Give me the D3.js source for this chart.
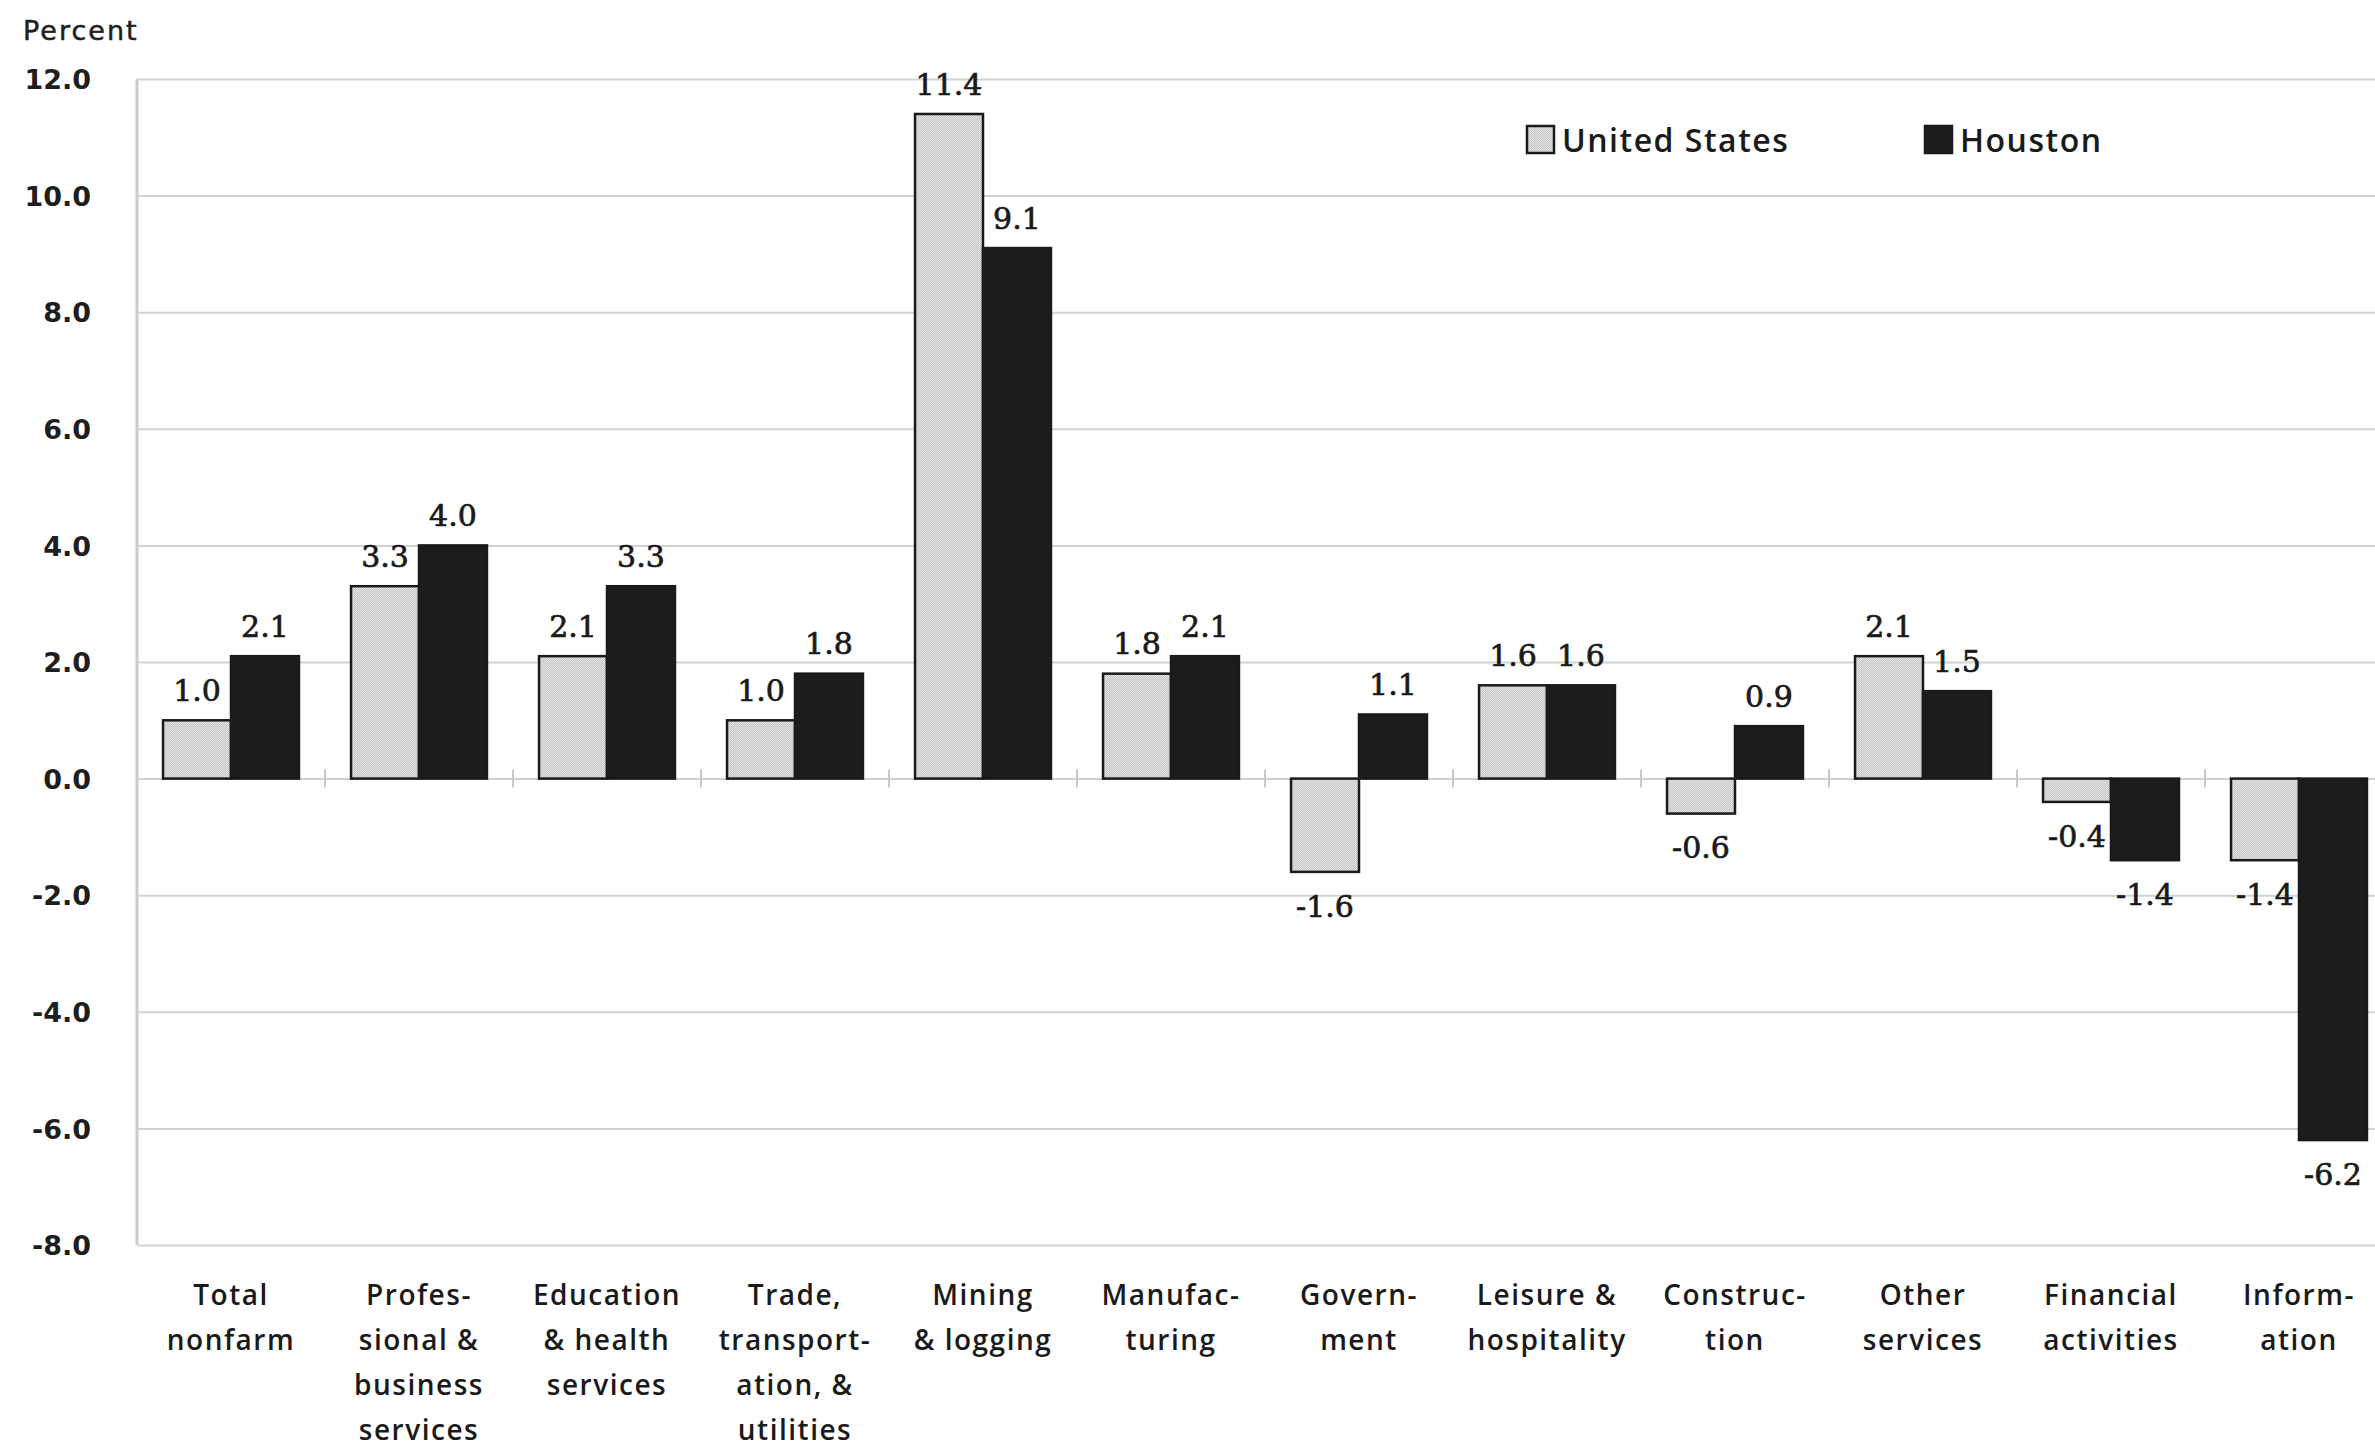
<!DOCTYPE html>
<html>
<head>
<meta charset="utf-8">
<script src="https://cdn.jsdelivr.net/npm/d3@7"></script>
<style>
  html, body { margin: 0; padding: 0; background: #fff; }
  svg { display: block; }
</style>
</head>
<body>
<svg id="chart" width="2375" height="1448"></svg>
<script>
// Over-the-year percent change in employment by industry
const categories = [
  "Total nonfarm", "Professional & business services", "Education & health services",
  "Trade, transportation, & utilities", "Mining & logging", "Manufacturing",
  "Government", "Leisure & hospitality", "Construction", "Other services",
  "Financial activities", "Information"
];
const categoryLines = [
  ["Total", "nonfarm"],
  ["Profes-", "sional &", "business", "services"],
  ["Education", "& health", "services"],
  ["Trade,", "transport-", "ation, &", "utilities"],
  ["Mining", "& logging"],
  ["Manufac-", "turing"],
  ["Govern-", "ment"],
  ["Leisure &", "hospitality"],
  ["Construc-", "tion"],
  ["Other", "services"],
  ["Financial", "activities"],
  ["Inform-", "ation"]
];
const usValues      = [1.0, 3.3, 2.1, 1.0, 11.4, 1.8, -1.6, 1.6, -0.6, 2.1, -0.4, -1.4];
const houstonValues = [2.1, 4.0, 3.3, 1.8, 9.1, 2.1, 1.1, 1.6, 0.9, 1.5, -1.4, -6.2];
const seriesNames = ["United States", "Houston"];
const yTickValues = [12, 10, 8, 6, 4, 2, 0, -2, -4, -6, -8];

const svg = d3.select("#chart");
const plotLeft = 137, step = 188, plotTop = 79, plotBottom = 1245;
const plotRight = plotLeft + step * categories.length;

// Dithered light-grey fill for the United States bars
const defs = svg.append("defs");
const pat = defs.append("pattern")
  .attr("id", "usFill").attr("width", 2).attr("height", 2)
  .attr("patternUnits", "userSpaceOnUse");
pat.append("rect").attr("width", 2).attr("height", 2).attr("fill", "#e4e4e4");
pat.append("rect").attr("width", 1).attr("height", 1).attr("fill", "#c4c4c4");
pat.append("rect").attr("x", 1).attr("y", 1).attr("width", 1).attr("height", 1).attr("fill", "#c4c4c4");

const x = d3.scaleBand().domain(categories)
  .range([plotLeft, plotRight]).paddingInner(0.277).paddingOuter(0.1385);
const xs = d3.scaleBand().domain(seriesNames).range([0, x.bandwidth()]);
const y = d3.scaleLinear().domain([-8, 12]).range([plotBottom, plotTop]);

const fmt = v => v.toFixed(1);

// Horizontal gridlines
const grid = svg.append("g").attr("transform", `translate(${plotLeft},0)`)
  .call(d3.axisLeft(y).tickValues(yTickValues).tickSize(-(plotRight - plotLeft)).tickFormat(""));
grid.select(".domain").remove();
grid.selectAll("line").attr("stroke", "#d2d2d2").attr("stroke-width", 2);

// Vertical axis line
svg.append("line")
  .attr("x1", plotLeft).attr("x2", plotLeft)
  .attr("y1", plotTop).attr("y2", plotBottom)
  .attr("stroke", "#cccccc").attr("stroke-width", 3);

// Y tick labels
const yAxis = svg.append("g").attr("transform", `translate(91,0)`)
  .call(d3.axisLeft(y).tickValues(yTickValues).tickSize(0).tickPadding(0).tickFormat(fmt));
yAxis.select(".domain").remove();
yAxis.selectAll("text")
  .attr("font-family", "DejaVu Sans").attr("font-weight", "bold")
  .attr("font-size", 27).attr("fill", "#1e1e1e").attr("text-anchor", "end")
  .attr("dy", "0.36em");

// Category boundary ticks on the zero line
svg.append("g").selectAll("line")
  .data(d3.range(1, categories.length + 1))
  .join("line")
  .attr("x1", i => plotLeft + i * step).attr("x2", i => plotLeft + i * step)
  .attr("y1", y(0) - 9).attr("y2", y(0) + 9)
  .attr("stroke", "#c8c8c8").attr("stroke-width", 2);

// "Percent" axis title
svg.append("text")
  .attr("x", 23).attr("y", 40)
  .attr("font-family", "DejaVu Sans").attr("font-size", 27)
  .attr("letter-spacing", 2).attr("fill", "#1e1e1e")
  .attr("stroke", "#1e1e1e").attr("stroke-width", 0.5)
  .text("Percent");

// Bars
const rows = categories.map((c, i) => ({ c, us: usValues[i], houston: houstonValues[i] }));
const groups = svg.append("g").selectAll("g")
  .data(rows).join("g")
  .attr("transform", d => `translate(${x(d.c)},0)`);

const barData = d => [
  { key: "United States", v: d.us },
  { key: "Houston", v: d.houston }
];

groups.selectAll("rect")
  .data(barData).join("rect")
  .attr("x", d => xs(d.key))
  .attr("width", xs.bandwidth())
  .attr("y", d => y(Math.max(0, d.v)))
  .attr("height", d => Math.abs(y(d.v) - y(0)))
  .attr("fill", d => d.key === "Houston" ? "#1c1c1c" : "url(#usFill)")
  .attr("stroke", "#1a1a1a").attr("stroke-width", 2.5);

// Value labels
groups.selectAll("text.val")
  .data(barData).join("text")
  .attr("class", "val")
  .attr("x", d => xs(d.key) + xs.bandwidth() / 2)
  .attr("y", d => d.v >= 0 ? y(d.v) - 30 : y(d.v) + 34)
  .attr("dy", "0.36em")
  .attr("text-anchor", "middle")
  .attr("font-family", "DejaVu Serif").attr("font-size", 30)
  .attr("fill", "#1a1a1a").attr("stroke", "#1a1a1a").attr("stroke-width", 0.7)
  .text(d => fmt(d.v));

// Category labels
const catLabels = svg.append("g").selectAll("text")
  .data(categories.map((c, i) => ({ c, lines: categoryLines[i] })))
  .join("text")
  .attr("text-anchor", "middle")
  .attr("font-family", "Open Sans").attr("font-weight", 600)
  .attr("font-size", 28).attr("letter-spacing", 1.5)
  .attr("fill", "#1a1a1a");
catLabels.selectAll("tspan")
  .data(d => d.lines.map(l => ({ l, cx: x(d.c) + x.bandwidth() / 2 })))
  .join("tspan")
  .attr("x", d => d.cx)
  .attr("y", (d, i) => 1305 + i * 45)
  .text(d => d.l);

// Legend
const legendItems = [
  { name: "United States", fill: "url(#usFill)", bx: 1527, tx: 1562 },
  { name: "Houston", fill: "#1c1c1c", bx: 1925, tx: 1960 }
];
const lg = svg.append("g").selectAll("g").data(legendItems).join("g");
lg.append("rect")
  .attr("x", d => d.bx).attr("y", 126).attr("width", 27).attr("height", 27)
  .attr("fill", d => d.fill).attr("stroke", "#1a1a1a").attr("stroke-width", 2.5);
lg.append("text")
  .attr("x", d => d.tx).attr("y", 140).attr("dy", "0.36em")
  .attr("font-family", "Open Sans").attr("font-weight", 600).attr("font-size", 32)
  .attr("letter-spacing", 1.5).attr("fill", "#1a1a1a")
  .text(d => d.name);
</script>
</body>
</html>
